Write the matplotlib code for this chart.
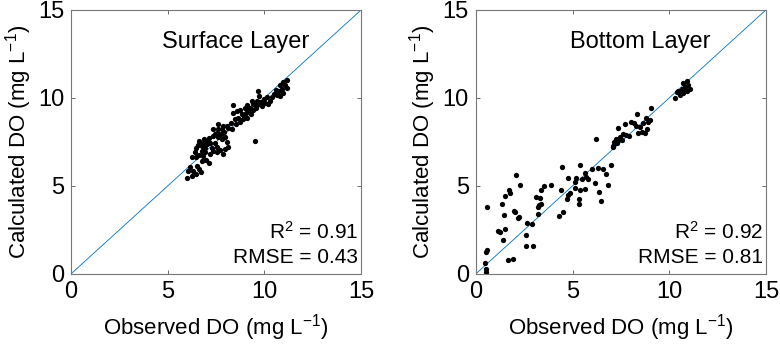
import matplotlib
matplotlib.use("Agg")
import matplotlib.pyplot as plt

plt.rcParams['font.family'] = ['Liberation Sans Narrow', 'Liberation Sans', 'DejaVu Sans']
plt.rcParams['mathtext.default'] = 'regular'

# surface layer: observed, calculated DO (mg/L)
surf_obs = [11.16, 10.98, 10.81, 11.07, 11.19, 10.90, 10.73, 10.98, 10.64, 10.81, 10.50, 10.60,
            9.69, 9.74, 10.0, 10.29, 10.20, 10.04, 9.92, 9.78, 9.61, 9.64, 9.43, 9.35, 9.86, 9.57,
            9.40, 9.26, 9.17, 9.05, 9.29, 8.95, 8.83, 8.36, 8.40, 8.66, 8.74, 8.53, 8.26, 8.14,
            8.05, 8.31, 7.62, 7.59, 7.33, 7.54, 7.74, 7.91, 7.96, 7.79, 8.09, 9.52, 7.36, 7.16,
            6.64, 6.59, 6.76, 6.47, 6.93, 7.05, 7.28, 7.54, 7.71, 7.96, 8.14, 7.84, 7.19, 6.93,
            6.76, 6.64, 6.47, 6.24, 6.76, 7.00, 7.16, 6.50, 6.16, 6.33, 6.07, 6.64, 6.71, 6.24,
            6.47, 6.02, 8.57, 8.74, 9.0, 9.12, 9.52, 10.12, 10.38, 8.88, 9.09, 8.48, 7.88, 7.79,
            7.45, 7.62, 7.02, 6.85, 6.88, 7.19, 7.45, 7.36, 7.54, 6.85, 6.42]
surf_calc = [11.04, 10.90, 10.75, 10.71, 10.56, 10.53, 10.38, 10.28, 10.19, 10.10, 10.23, 10.47,
             10.42, 10.10, 9.96, 9.85, 9.66, 9.72, 9.85, 9.77, 9.85, 9.62, 9.66, 9.85, 9.53, 9.44,
             9.34, 9.44, 9.25, 9.16, 9.06, 8.97, 9.06, 9.57, 9.15, 8.87, 8.65, 8.50, 8.59, 8.31,
             8.40, 8.21, 8.50, 8.25, 8.21, 8.03, 7.93, 8.06, 7.78, 7.65, 7.52, 7.56, 7.84, 7.75,
             7.56, 7.33, 7.28, 7.14, 7.14, 7.37, 7.14, 7.22, 7.03, 7.09, 7.22, 6.80, 6.80, 6.90,
             7.00, 6.77, 6.62, 6.62, 6.43, 6.47, 6.32, 6.15, 6.09, 5.87, 5.87, 5.96, 5.77, 5.58,
             5.68, 5.45, 9.25, 9.34, 9.44, 9.59, 9.72, 10.04, 10.04, 8.78, 8.87, 8.78, 8.40, 8.21,
             7.93, 7.78, 7.56, 7.46, 7.65, 7.46, 7.46, 7.00, 6.90, 6.71, 6.90]

# bottom layer
bot_obs = [10.9, 10.72, 10.98, 10.81, 10.64, 10.47, 10.9, 10.72, 10.29, 10.55, 11.07, 10.38, 10.81,
           9.05, 8.31, 8.0, 7.72, 7.33, 6.21, 9.0, 8.91, 8.79, 8.66, 8.48, 8.57, 8.74, 8.40, 8.28,
           8.17, 8.83, 7.93, 7.79, 7.59, 7.45, 7.36, 7.24, 7.14, 7.28, 7.10, 7.07, 7.55,
           4.45, 5.38, 6.02, 6.33, 6.55, 7.0, 6.72, 6.84, 6.38, 6.48, 6.17, 5.81, 5.72, 5.62, 5.47,
           5.17, 5.12, 4.79, 5.38, 5.62, 5.14, 4.86, 4.78, 4.69, 5.31, 5.31, 4.41, 4.52, 4.28,
           3.91, 3.52, 3.38, 3.34, 3.28, 3.38, 3.22, 3.10, 3.24, 2.31, 2.10, 1.72, 1.76, 1.52,
           1.38, 1.97, 2.02, 2.22, 2.19, 1.45, 0.59, 1.14, 1.24, 1.50, 1.41, 2.66, 2.91, 2.57,
           2.62, 2.97, 1.66, 1.90, 0.60, 0.52, 0.45, 0.52, 0.52]
bot_calc = [10.96, 10.85, 10.72, 10.62, 10.53, 10.40, 10.40, 10.25, 10.0, 10.15, 10.53, 10.34, 10.47,
            9.45, 9.06, 8.64, 8.49, 8.30, 7.64, 8.77, 8.64, 8.83, 8.55, 8.36, 8.08, 8.02, 8.02, 8.40,
            8.55, 8.26, 7.83, 7.89, 7.94, 7.79, 7.60, 7.64, 7.51, 7.42, 7.26, 7.19, 7.60,
            6.09, 6.17, 5.98, 6.0, 5.98, 6.17, 5.68, 5.06, 4.68, 4.17, 5.15, 5.42, 5.52, 5.75, 5.40,
            5.43, 5.25, 5.43, 4.77, 4.81, 4.90, 4.62, 4.50, 4.25, 4.28, 3.98, 4.74, 3.53, 3.30,
            5.08, 5.0, 4.77, 4.30, 3.89, 3.98, 3.80, 4.36, 3.43, 5.06, 5.60, 4.79, 4.62, 4.40,
            3.98, 3.60, 3.49, 3.26, 3.17, 3.34, 3.79, 2.45, 2.36, 2.57, 1.92, 2.89, 2.85, 2.19,
            1.57, 1.60, 0.77, 0.85, 1.34, 1.25, 0.60, 0.28, 0.11]

panels = [("Surface Layer", surf_obs, surf_calc, "0.91", "0.43"),
          ("Bottom Layer", bot_obs, bot_calc, "0.92", "0.81")]

fig = plt.figure(figsize=(7.8, 3.53), dpi=100)
lefts = [0.091, 0.610]

for left, (name, obs, calc, r2, rmse) in zip(lefts, panels):
    ax = fig.add_axes([left, 0.224, 0.372, 0.748])
    ax.plot([0, 15], [0, 15], color="#0072BD", lw=0.6, zorder=1)
    ax.plot(obs, calc, "o", color="black", ms=3.8, mec="none", zorder=2)
    ax.set_xlim(0, 15)
    ax.set_ylim(0, 15)
    ax.set_xticks([0, 5, 10, 15])
    ax.set_yticks([0, 5, 10, 15])
    ax.tick_params(direction="in", top=True, right=True, length=3, width=0.6,
                   color="#555555", labelsize=17, pad=5)
    for s in ax.spines.values():
        s.set_color("#777777")
        s.set_linewidth(0.8)
    ax.set_xlabel(r"Observed DO (mg L$^{-1}$)", fontsize=16, labelpad=7)
    ax.set_ylabel(r"Calculated DO (mg L$^{-1}$)", fontsize=16, labelpad=3)
    ax.text(8.5, 13.2, name, fontsize=17, ha="center", va="center")
    ax.text(14.85, 2.4, r"R$^2$ = " + r2, fontsize=15, ha="right", va="center")
    ax.text(14.85, 0.95, "RMSE = " + rmse, fontsize=15, ha="right", va="center")

fig.savefig("out.png", dpi=100)
